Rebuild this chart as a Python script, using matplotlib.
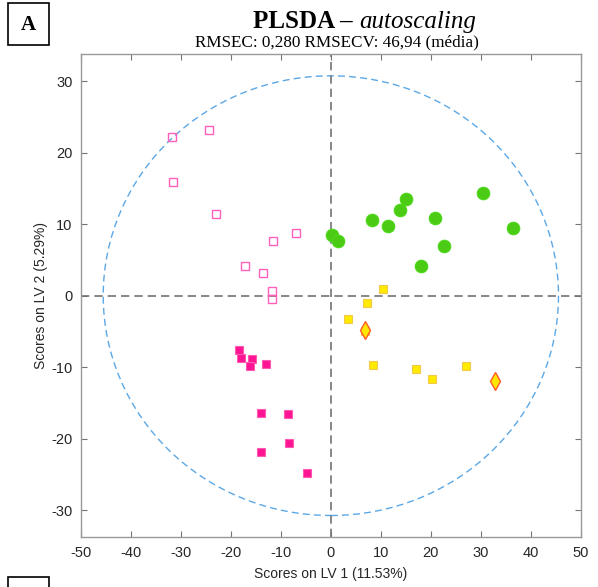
import matplotlib
matplotlib.use("Agg")
import matplotlib.pyplot as plt
import numpy as np
from matplotlib.patches import Ellipse, Rectangle

# Data
open_pink_x = [-31.8, -24.4, -31.5, -22.9, -7.0, -11.6, -17.2, -13.5, -11.8, -11.8]
open_pink_y = [22.25, 23.1, 15.9, 11.4, 8.7, 7.6, 4.1, 3.1, 0.7, -0.5]

green_x = [0.2, 1.5, 8.3, 11.4, 13.9, 15.1, 20.9, 22.7, 18.1, 30.5, 36.5]
green_y = [8.5, 7.7, 10.6, 9.7, 12.0, 13.5, 10.9, 6.9, 4.2, 14.4, 9.5]

yellow_x = [10.5, 7.2, 3.4, 8.5, 17.0, 20.2, 27.0, 6.9]
yellow_y = [1.0, -1.0, -3.3, -9.7, -10.3, -11.6, -9.8, -4.9]

diamond_x = [6.9, 32.8]
diamond_y = [-4.8, -12.0]

pink_x = [-18.4, -17.9, -15.8, -16.1, -12.9, -13.9, -8.6, -8.4, -13.9, -4.8]
pink_y = [-7.6, -8.7, -8.8, -9.9, -9.5, -16.4, -16.5, -20.6, -21.8, -24.8]

ellipse_rx = 45.5
ellipse_ry = 30.75

xticks = [-50, -40, -30, -20, -10, 0, 10, 20, 30, 40, 50]
yticks = [-30, -20, -10, 0, 10, 20, 30]

plt.rcParams['font.family'] = ['Liberation Sans', 'DejaVu Sans']
plt.rcParams['axes.unicode_minus'] = False

fig = plt.figure(figsize=(5.98, 5.87), dpi=100)
ax = fig.add_axes([80.7/598, 1-537.3/587, (581-80.7)/598, (537.3-54)/587])

ax.add_patch(Ellipse((0, 0), 2*ellipse_rx, 2*ellipse_ry, fill=False,
                     edgecolor=(0.36, 0.66, 0.90), linestyle=(0, (5, 3)), lw=1.0, zorder=1))
ax.axhline(0, color=(0.45, 0.45, 0.45), linestyle=(0, (5, 3)), lw=1.2, zorder=1)
ax.axvline(0, color=(0.45, 0.45, 0.45), linestyle=(0, (5, 3)), lw=1.2, zorder=1)

ax.plot(open_pink_x, open_pink_y, 's', ms=6, mfc='none', mec='#FF5FB8', mew=1.0, zorder=3)
ax.plot(green_x, green_y, 'o', ms=9, mfc='#4CCB14', mec='#4CD818', mew=0.8, zorder=3)
ax.plot(yellow_x, yellow_y, 's', ms=6, mfc='#FFEA00', mec='#F2C94C', mew=0.8, zorder=3)
ax.plot(diamond_x, diamond_y, 'd', ms=9, mfc='#FFE600', mec='#FF5A2A', mew=1.0, zorder=4)
ax.plot(pink_x, pink_y, 's', ms=6, mfc='#FF1493', mec='#FF5AB0', mew=0.8, zorder=3)

ax.set_xlim(-50, 50)
ax.set_ylim(-33.8, 33.8)
ax.set_xticks(xticks)
ax.set_yticks(yticks)
ax.tick_params(direction='in', length=4, width=0.8, top=True, right=True,
               labelsize=10.5, colors=(0.15, 0.15, 0.15), color=(0.45, 0.45, 0.45), pad=6)
for s in ax.spines.values():
    s.set_color((0.6, 0.6, 0.6))
    s.set_linewidth(1.0)

ax.set_xlabel('Scores on LV 1 (11.53%)', fontsize=10, color=(0.15, 0.15, 0.15), labelpad=5)
ax.set_ylabel('Scores on LV 2 (5.29%)', fontsize=10, color=(0.15, 0.15, 0.15), labelpad=2)

# Titles
fig.text(359/598, 1-22/587, 'PLSDA – ', fontsize=18, fontweight='bold',
         family='Liberation Serif', ha='right', va='center')
fig.text(359/598, 1-22/587, 'autoscaling', fontsize=18, fontstyle='italic',
         family='Liberation Serif', ha='left', va='center')
fig.text(337/598, 1-42/587, 'RMSEC: 0,280 RMSECV: 46,94 (média)', fontsize=12.3,
         family='Liberation Serif', ha='center', va='center')

# Panel label box
fig.patches.append(Rectangle((7.5/598, 1-45/587), 41/598, 42/587, transform=fig.transFigure,
                             fill=False, edgecolor='black', lw=1.2))
fig.text(28/598, 1-25/587, 'A', fontsize=15, fontweight='bold', family='Liberation Serif',
         ha='center', va='center')
fig.patches.append(Rectangle((7.5/598, -10/587), 41/598, (587-577+10)/587, transform=fig.transFigure,
                             fill=False, edgecolor='black', lw=1.2))

fig.savefig('out.png', dpi=100)
